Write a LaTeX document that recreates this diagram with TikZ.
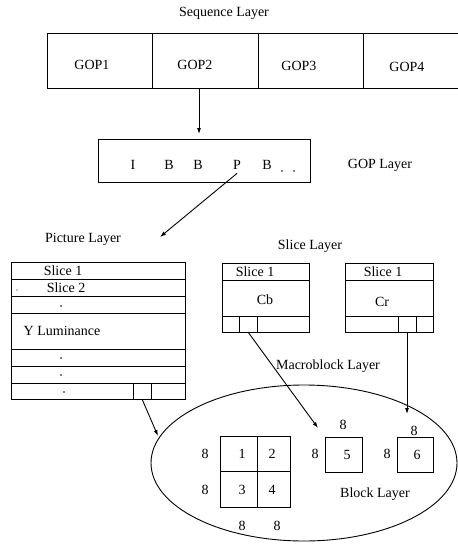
\documentclass[tikz,border=0pt]{standalone}
\usepackage{fontspec}
\setmainfont{Liberation Serif}
\usetikzlibrary{arrows.meta}
\begin{document}
\begin{tikzpicture}[x=1pt, y=-1pt, line width=0.9pt,
    font=\fontsize{14}{16}\selectfont,
    >={Latex[length=6pt,width=4pt]}]
  \useasboundingbox (0,0) rectangle (458,550);

  % sequence layer
  \node (seq) at (224,13) {Sequence Layer};
  \draw (458,33) -- (47,33) -- (47,88) -- (458,88);
  \draw (152,33)--(152,88);
  \draw (258,33)--(258,88);
  \draw (363,33)--(363,88);
  \node (gop1) at (92,65) {GOP1};
  \node (gop2) at (195,65) {GOP2};
  \node (gop3) at (299,66) {GOP3};
  \node (gop4) at (407,67) {GOP4};
  \coordinate (seqout) at (199,88);
  \coordinate (gopin) at (199,134);
  \draw [->] (seqout)--(gopin);

  % GOP layer
  \draw (98,139) rectangle (310,182);
  \node (fi) at (133,165) {I};
  \node (fb1) at (169,165) {B};
  \node (fb2) at (198,165) {B};
  \node (fp) at (237,165) {P};
  \node (fb3) at (267,165) {B};
  \fill (282,171) circle (0.9);
  \fill (294,171) circle (0.9);
  \node (gopl) at (380,165) {GOP Layer};
  \coordinate (picin) at (160,237);
  \draw [->] (fp.south)--(picin);

  % picture layer
  \node (picl) at (83,239) {Picture Layer};
  \draw (11,262) rectangle (185,399);
  \foreach \y in {279,296,313,349,366,383}
    \draw (11,\y)--(185,\y);
  \draw (133,383)--(133,399);
  \draw (151,383)--(151,399);
  \node (ps1) at (63,270.5) {Slice 1};
  \node (ps2) at (66,287.5) {Slice 2};
  \node (ylum) at (62,331) {Y Luminance};
  \fill (17,290) circle (0.7);
  \fill (61,306) circle (0.8);
  \fill (61,358) circle (0.8);
  \fill (61,375) circle (0.8);
  \fill (64,392) circle (0.8);
  \coordinate (picmb) at (142,399);
  \coordinate (ellin) at (158,436);
  \draw [->] (picmb)--(ellin);

  % slice layer
  \node (slicel) at (310,246) {Slice Layer};
  \draw (222,263) rectangle (309,332);
  \draw (222,280)--(309,280);
  \draw (222,316)--(309,316);
  \draw (239,316)--(239,332);
  \draw (257,316)--(257,332);
  \node (cbs) at (255,272) {Slice 1};
  \node (cb) at (265,300) {Cb};
  \draw (345,263) rectangle (433,332);
  \draw (345,280)--(433,280);
  \draw (345,316)--(433,316);
  \draw (398,316)--(398,332);
  \draw (416,316)--(416,332);
  \node (crs) at (383,272) {Slice 1};
  \node (cr) at (382,302) {Cr};
  \node (mbl) at (328,366) {Macroblock Layer};
  \coordinate (cbmb) at (248,332);
  \coordinate (b5in) at (318,428);
  \draw [->] (cbmb)--(b5in);
  \coordinate (crmb) at (407,332);
  \coordinate (b6in) at (407,414);
  \draw [->] (crmb)--(b6in);

  % block layer
  \draw (304,463) ellipse [x radius=153, y radius=78];
  \draw (220,436) rectangle (290,507);
  \draw (257,436)--(257,507);
  \draw (220,471)--(290,471);
  \node (b1) at (242,454) {1};
  \node (b2) at (272,454) {2};
  \node (b3) at (242,490) {3};
  \node (b4) at (272,490) {4};
  \node (e1) at (205,454) {8};
  \node (e2) at (205,490) {8};
  \node (e3) at (242,526) {8};
  \node (e4) at (277,526) {8};
  \draw (325,437) rectangle (362,472);
  \node (b5) at (347,455) {5};
  \node (e5) at (343,425) {8};
  \node (e6) at (315,454) {8};
  \draw (397,437) rectangle (433,472);
  \node (b6) at (417,455) {6};
  \node (e7) at (414,431) {8};
  \node (e8) at (387,454) {8};
  \node (blockl) at (375,494) {Block Layer};
\end{tikzpicture}
\end{document}
